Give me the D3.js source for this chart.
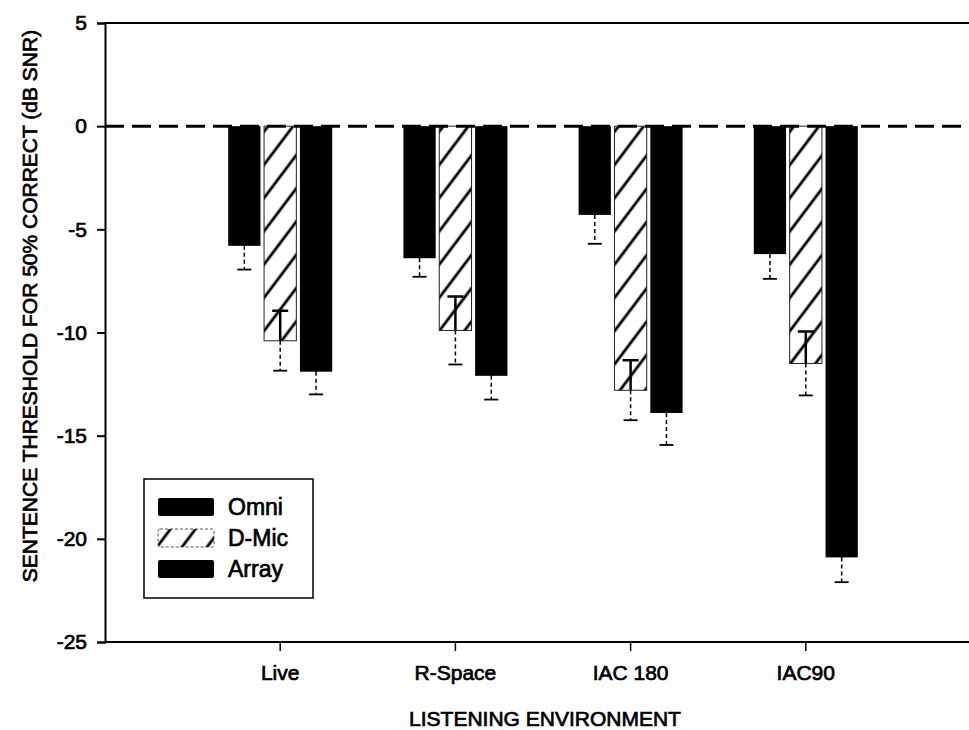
<!DOCTYPE html>
<html>
<head>
<meta charset="utf-8">
<script src="https://cdn.jsdelivr.net/npm/d3@7"></script>
<style>
  body { margin: 0; background: #fff; }
  svg { display: block; font-family: "Liberation Sans", Arial, sans-serif; }
  svg text { stroke: #000; stroke-width: 0.7px; fill: #000; }
</style>
</head>
<body>
<div id="chart"></div>
<script>
// Data
const environments = ["Live", "R-Space", "IAC 180", "IAC90"];
const series = ["Omni", "D-Mic", "Array"];
const omniMean = [-5.8, -6.4, -4.3, -6.2];
const omniErr = [1.15, 0.9, 1.4, 1.2];
const dmicMean = [-10.4, -9.9, -12.8, -11.5];
const dmicErr = [1.45, 1.65, 1.45, 1.55];
const arrayMean = [-11.9, -12.1, -13.9, -20.9];
const arrayErr = [1.1, 1.15, 1.55, 1.2];
const yTicks = [5, 0, -5, -10, -15, -20, -25];

const means = { "Omni": omniMean, "D-Mic": dmicMean, "Array": arrayMean };
const errs = { "Omni": omniErr, "D-Mic": dmicErr, "Array": arrayErr };

const width = 969, height = 730;
const margin = { top: 23, left: 105 };
const plotBottom = 642, plotRight = 981;

const svg = d3.select("#chart")
  .append("svg")
  .attr("width", width)
  .attr("height", height);

// hatch pattern for D-Mic
const defs = svg.append("defs");
defs.append("pattern")
  .attr("id", "hatch")
  .attr("patternUnits", "userSpaceOnUse")
  .attr("width", 20)
  .attr("height", 20)
  .attr("patternTransform", "rotate(-53)")
  .call(p => p.append("rect").attr("width", 20).attr("height", 20).attr("fill", "#fff"))
  .append("line")
  .attr("x1", 0).attr("y1", 10)
  .attr("x2", 20).attr("y2", 10)
  .attr("stroke", "#000")
  .attr("stroke-width", 2.8);

const x = d3.scaleBand()
  .domain(environments)
  .range([margin.left, plotRight])
  .paddingInner(0)
  .paddingOuter(0.5);

const xSub = d3.scaleBand()
  .domain(series)
  .range([-52, 52])
  .paddingInner(0.1);

const y = d3.scaleLinear()
  .domain([-25, 5])
  .range([plotBottom, margin.top]);

const center = env => x(env) + x.bandwidth() / 2;

// Frame: top line, left axis, bottom axis
svg.append("line")
  .attr("x1", margin.left).attr("x2", width + 20)
  .attr("y1", y(5)).attr("y2", y(5))
  .attr("stroke", "#000").attr("stroke-width", 2);

const yAxis = svg.append("g")
  .attr("transform", `translate(${margin.left},0)`)
  .call(d3.axisLeft(y).tickValues(yTicks).tickSize(8).tickPadding(10).tickFormat(d3.format("d")));
yAxis.select(".domain").attr("stroke-width", 2);
yAxis.selectAll(".tick line").attr("stroke-width", 2);
yAxis.selectAll(".tick text")
  .attr("font-size", 21)
  .attr("font-family", "Liberation Sans, Arial, sans-serif")
  .text(d => d < 0 ? "-" + Math.abs(d) : d);

const xAxis = svg.append("g")
  .attr("transform", `translate(0,${plotBottom})`)
  .call(d3.axisBottom(x).tickSize(9).tickPadding(14).tickSizeOuter(0));
xAxis.select(".domain")
  .attr("d", `M${margin.left},0H${width + 20}`)
  .attr("stroke-width", 2);
xAxis.selectAll(".tick line").attr("stroke-width", 1.5);
xAxis.selectAll(".tick text")
  .attr("font-size", 21)
  .attr("font-family", "Liberation Sans, Arial, sans-serif");

// Bars
const rows = environments.flatMap((env, i) => series.map(s => ({
  env, s, value: means[s][i], err: errs[s][i]
})));

svg.append("g")
  .selectAll("rect")
  .data(rows)
  .join("rect")
  .attr("x", d => center(d.env) + xSub(d.s))
  .attr("y", y(0))
  .attr("width", xSub.bandwidth())
  .attr("height", d => y(d.value) - y(0))
  .attr("fill", d => d.s === "D-Mic" ? "url(#hatch)" : "#000")
  .attr("stroke", d => d.s === "D-Mic" ? "#222" : "none")
  .attr("stroke-width", 1);

// Zero reference line
svg.append("line")
  .attr("x1", margin.left).attr("x2", width + 20)
  .attr("y1", y(0)).attr("y2", y(0))
  .attr("stroke", "#000")
  .attr("stroke-width", 3)
  .attr("stroke-dasharray", "19,8");

// Error bars
const eb = svg.append("g").attr("stroke", "#000");
const mid = d => center(d.env) + xSub(d.s) + xSub.bandwidth() / 2;

// part inside the bar (only visible on the hatched bars)
eb.selectAll(".up")
  .data(rows)
  .join("path")
  .attr("class", "up")
  .attr("fill", "none")
  .attr("stroke-width", 2.5)
  .attr("d", d => `M${mid(d)},${y(d.value)}V${y(d.value + d.err)}M${mid(d) - 8},${y(d.value + d.err)}H${mid(d) + 8}`);

// part below the bar
eb.selectAll(".stem")
  .data(rows)
  .join("line")
  .attr("class", "stem")
  .attr("x1", mid).attr("x2", mid)
  .attr("y1", d => y(d.value))
  .attr("y2", d => y(d.value - d.err))
  .attr("stroke-width", 1.5)
  .attr("stroke-dasharray", "4,3");

eb.selectAll(".cap")
  .data(rows)
  .join("line")
  .attr("class", "cap")
  .attr("x1", d => mid(d) - 7).attr("x2", d => mid(d) + 7)
  .attr("y1", d => y(d.value - d.err))
  .attr("y2", d => y(d.value - d.err))
  .attr("stroke-width", 1.8);

// Legend
const legend = svg.append("g");
legend.append("rect")
  .attr("x", 144).attr("y", 479)
  .attr("width", 169).attr("height", 119)
  .attr("fill", "#fff")
  .attr("stroke", "#000")
  .attr("stroke-width", 1.5);

const legendItems = legend.selectAll(".item")
  .data(series)
  .join("g")
  .attr("class", "item")
  .attr("transform", (d, i) => `translate(158,${498 + i * 31})`);

legendItems.append("rect")
  .attr("width", 56)
  .attr("height", 18)
  .attr("rx", 2)
  .attr("fill", d => d === "D-Mic" ? "url(#hatch)" : "#000")
  .attr("stroke", d => d === "D-Mic" ? "#555" : "none")
  .attr("stroke-dasharray", d => d === "D-Mic" ? "3,2" : null);

legendItems.append("text")
  .attr("x", 70)
  .attr("y", 17)
  .attr("font-size", 23)
  .text(d => d);

// Axis titles
svg.append("text")
  .attr("x", 545)
  .attr("y", 726)
  .attr("text-anchor", "middle")
  .attr("font-size", 21)
  .text("LISTENING ENVIRONMENT");

svg.append("text")
  .attr("transform", "translate(37,306) rotate(-90)")
  .attr("text-anchor", "middle")
  .attr("font-size", 21)
  .text("SENTENCE THRESHOLD FOR 50% CORRECT (dB SNR)");
</script>
</body>
</html>
